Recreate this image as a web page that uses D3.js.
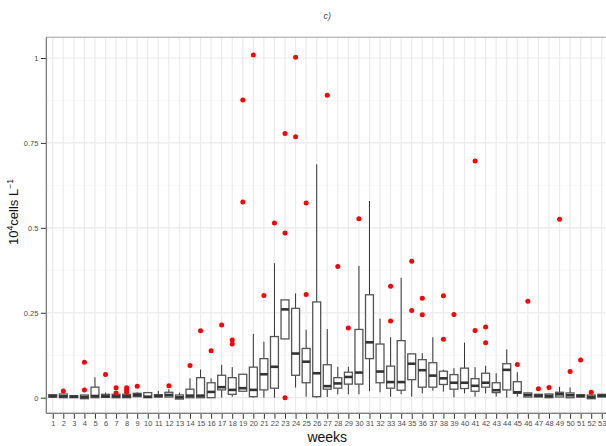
<!DOCTYPE html>
<html>
<head>
<meta charset="utf-8">
<script src="https://cdn.jsdelivr.net/npm/d3@7"></script>
<style>
  html, body { margin: 0; padding: 0; background: #fff; }
  svg { display: block; font-family: "Liberation Sans", Arial, Helvetica, sans-serif; }
</style>
</head>
<body>
<svg id="chart" width="606" height="446"></svg>
<script>
// Weekly abundance (10^4 cells per litre) summarised as boxplots
const weeks = ["1","2","3","4","5","6","7","8","9","10","11","12","13","14","15","16","17","18","19","20",
  "21","22","23","24","25","26","27","28","29","30","31","32","33","34","35","36","37","38","39","40",
  "41","42","43","44","45","46","47","48","49","50","51","52","53"];

const whiskerLow = [0, 0, 0, -0.003, 0, 0.001, 0, 0, 0.003, 0, 0.002, 0.002, -0.004, 0, 0, 0, 0, 0.003, 0.019, 0,
  0, 0, 0.173, 0.030, 0.003, 0, 0.002, 0.010, 0.010, 0.010, 0.019, 0.016, 0.003, 0.010, 0.003, 0.013, 0.021, 0.018, 0.001, 0.013,
  0.003, 0.013, 0.003, 0, 0.003, 0.002, 0.002, 0, 0.002, 0, 0.002, -0.003, 0.002];

const lowerQuartile = [0.002, 0, 0, -0.003, 0, 0.001, 0, 0, 0.003, 0, 0.002, 0.002, -0.004, 0, 0, 0, 0.023, 0.010, 0.019, 0.003,
  0.023, 0.028, 0.173, 0.066, 0.044, 0.003, 0.025, 0.028, 0.040, 0.040, 0.115, 0.044, 0.028, 0.022, 0.053, 0.031, 0.031, 0.039, 0.025, 0.027,
  0.019, 0.031, 0.015, 0.023, 0.013, 0.002, 0.002, 0, 0.002, 0, 0.002, -0.003, 0.002];

const medians = [0.004, 0.004, 0.003, 0.002, 0.005, 0.004, 0.004, 0.004, 0.008, 0.003, 0.005, 0.008, 0.001, 0.006, 0.006, 0.017, 0.031, 0.023, 0.028, 0.023,
  0.069, 0.091, 0.260, 0.130, 0.106, 0.072, 0.034, 0.042, 0.061, 0.074, 0.163, 0.077, 0.046, 0.046, 0.100, 0.081, 0.065, 0.057, 0.044, 0.044,
  0.035, 0.044, 0.022, 0.082, 0.016, 0.008, 0.006, 0.005, 0.010, 0.007, 0.005, 0.002, 0.006];

const upperQuartile = [0.009, 0.011, 0.006, 0.008, 0.031, 0.010, 0.010, 0.010, 0.013, 0.015, 0.009, 0.016, 0.008, 0.025, 0.059, 0.044, 0.066, 0.059, 0.069, 0.090,
  0.115, 0.180, 0.288, 0.263, 0.145, 0.282, 0.097, 0.059, 0.075, 0.201, 0.303, 0.158, 0.093, 0.168, 0.129, 0.112, 0.103, 0.078, 0.068, 0.087,
  0.056, 0.072, 0.044, 0.100, 0.047, 0.014, 0.010, 0.011, 0.016, 0.014, 0.009, 0.008, 0.010];

const whiskerHigh = [0.009, 0.011, 0.006, 0.008, 0.060, 0.015, 0.010, 0.010, 0.016, 0.015, 0.020, 0.025, 0.015, 0.057, 0.083, 0.057, 0.097, 0.090, 0.069, 0.188,
  0.165, 0.396, 0.288, 0.307, 0.200, 0.687, 0.202, 0.091, 0.091, 0.388, 0.579, 0.233, 0.178, 0.353, 0.129, 0.131, 0.178, 0.082, 0.087, 0.162,
  0.090, 0.094, 0.072, 0.142, 0.075, 0.014, 0.010, 0.011, 0.032, 0.030, 0.009, 0.008, 0.010];

const outliers = [[], [0.020], [], [0.104, 0.023], [], [0.068], [0.029, 0.014], [0.029, 0.023, 0.016], [0.034], [],
  [], [0.035], [], [0.095], [0.197], [0.138], [0.214], [0.170, 0.158], [0.876, 0.576], [1.009],
  [0.301], [0.514], [0.778, 0.485, 0.000], [1.002, 0.768], [0.573, 0.304], [], [0.890], [0.386], [0.205], [0.527],
  [], [], [0.328, 0.226], [], [0.402, 0.257], [0.293, 0.244], [], [0.300, 0.172], [0.245], [],
  [0.697, 0.198], [0.208, 0.162], [], [], [0.098], [0.284], [0.026], [0.030], [0.525], [0.077],
  [0.111], [0.016], []];

const yTicks = [0, 0.25, 0.5, 0.75, 1];
const yMinor = [0.125, 0.375, 0.625, 0.875];
const yTickLabels = ["0", "0.25", "0.5", "0.75", "1"];

const svg = d3.select("#chart");

const panel = { left: 46.4, right: 608.1, top: 37.3, bottom: 413.3 };

const x = d3.scalePoint().domain(weeks).range([panel.left, panel.right]).padding(0.6);
const y = d3.scaleLinear().domain([0, 1]).range([397.7, 58]);
const boxW = x.step() * 0.75;

const rows = weeks.map((w, i) => ({
  week: w, lo: whiskerLow[i], q1: lowerQuartile[i], med: medians[i],
  q3: upperQuartile[i], hi: whiskerHigh[i], out: outliers[i]
}));

// panel background and grid
svg.append("rect")
  .attr("x", panel.left).attr("y", panel.top)
  .attr("width", panel.right - panel.left).attr("height", panel.bottom - panel.top)
  .attr("fill", "#fff");

const grid = svg.append("g");
grid.selectAll("line.minor").data(yMinor).join("line")
  .attr("x1", panel.left).attr("x2", panel.right)
  .attr("y1", d => y(d)).attr("y2", d => y(d))
  .attr("stroke", "#f4f4f4").attr("stroke-width", 0.7);
grid.selectAll("line.majorY").data(yTicks).join("line")
  .attr("x1", panel.left).attr("x2", panel.right)
  .attr("y1", d => y(d)).attr("y2", d => y(d))
  .attr("stroke", "#ebebeb").attr("stroke-width", 1.2);
grid.selectAll("line.majorX").data(weeks).join("line")
  .attr("x1", d => x(d)).attr("x2", d => x(d))
  .attr("y1", panel.top).attr("y2", panel.bottom)
  .attr("stroke", "#ebebeb").attr("stroke-width", 1.2);

// panel frame
svg.append("rect")
  .attr("x", panel.left).attr("y", panel.top)
  .attr("width", panel.right - panel.left).attr("height", panel.bottom - panel.top)
  .attr("fill", "none").attr("stroke", "#b3b3b3").attr("stroke-width", 1.2);

// boxplots
const boxes = svg.append("g").selectAll("g").data(rows).join("g");

boxes.append("line")
  .attr("x1", d => x(d.week)).attr("x2", d => x(d.week))
  .attr("y1", d => y(d.q3)).attr("y2", d => y(d.hi))
  .attr("stroke", "#333").attr("stroke-width", 1);
boxes.append("line")
  .attr("x1", d => x(d.week)).attr("x2", d => x(d.week))
  .attr("y1", d => y(d.q1)).attr("y2", d => y(d.lo))
  .attr("stroke", "#333").attr("stroke-width", 1);
boxes.append("rect")
  .attr("x", d => x(d.week) - boxW / 2).attr("width", boxW)
  .attr("y", d => y(d.q3)).attr("height", d => Math.max(0, y(d.q1) - y(d.q3)))
  .attr("fill", "#fff").attr("stroke", "#555").attr("stroke-width", 1.3);
boxes.append("line")
  .attr("x1", d => x(d.week) - boxW / 2).attr("x2", d => x(d.week) + boxW / 2)
  .attr("y1", d => y(d.med)).attr("y2", d => y(d.med))
  .attr("stroke", "#333").attr("stroke-width", 2.6);

boxes.selectAll("circle").data(d => d.out.map(v => ({ week: d.week, v }))).join("circle")
  .attr("cx", d => x(d.week)).attr("cy", d => y(d.v)).attr("r", 2.5)
  .attr("fill", "#ff0000");

// axes
const yAxis = svg.append("g").attr("transform", `translate(${panel.left},0)`)
  .call(d3.axisLeft(y).tickValues(yTicks).tickFormat((d, i) => yTickLabels[i]).tickSize(5.5).tickPadding(2.5));
const xAxis = svg.append("g").attr("transform", `translate(0,${panel.bottom})`)
  .call(d3.axisBottom(x).tickSize(5.5).tickPadding(2));

[yAxis, xAxis].forEach(a => {
  a.select(".domain").remove();
  a.selectAll(".tick line").attr("stroke", "#333").attr("stroke-width", 1);
  a.selectAll(".tick text").attr("fill", "#4d4d4d").attr("font-size", 7.5)
    .attr("font-family", "Liberation Sans, Arial, sans-serif");
});

svg.append("line").attr("x1", panel.left).attr("x2", panel.left)
  .attr("y1", panel.top).attr("y2", panel.bottom)
  .attr("stroke", "#7f7f7f").attr("stroke-width", 1.3);
svg.append("line").attr("x1", panel.left).attr("x2", panel.right)
  .attr("y1", panel.bottom).attr("y2", panel.bottom)
  .attr("stroke", "#7f7f7f").attr("stroke-width", 1.3);

// titles
svg.append("text")
  .attr("x", (panel.left + panel.right) / 2).attr("y", 19)
  .attr("text-anchor", "middle").attr("font-size", 9).attr("font-style", "italic")
  .attr("fill", "#4d4d5a").text("c)");

svg.append("text")
  .attr("x", (panel.left + panel.right) / 2).attr("y", 442)
  .attr("text-anchor", "middle").attr("font-size", 14).attr("fill", "#111").text("weeks");

const yl = svg.append("text")
  .attr("transform", "translate(18,212) rotate(-90)")
  .attr("text-anchor", "middle").attr("font-size", 13).attr("fill", "#111");
yl.append("tspan").text("10");
yl.append("tspan").attr("font-size", 8.5).attr("dy", -5).text("4");
yl.append("tspan").attr("dy", 5).text("cells L");
yl.append("tspan").attr("font-size", 8.5).attr("dy", -5).text("\u22121");
</script>
</body>
</html>
